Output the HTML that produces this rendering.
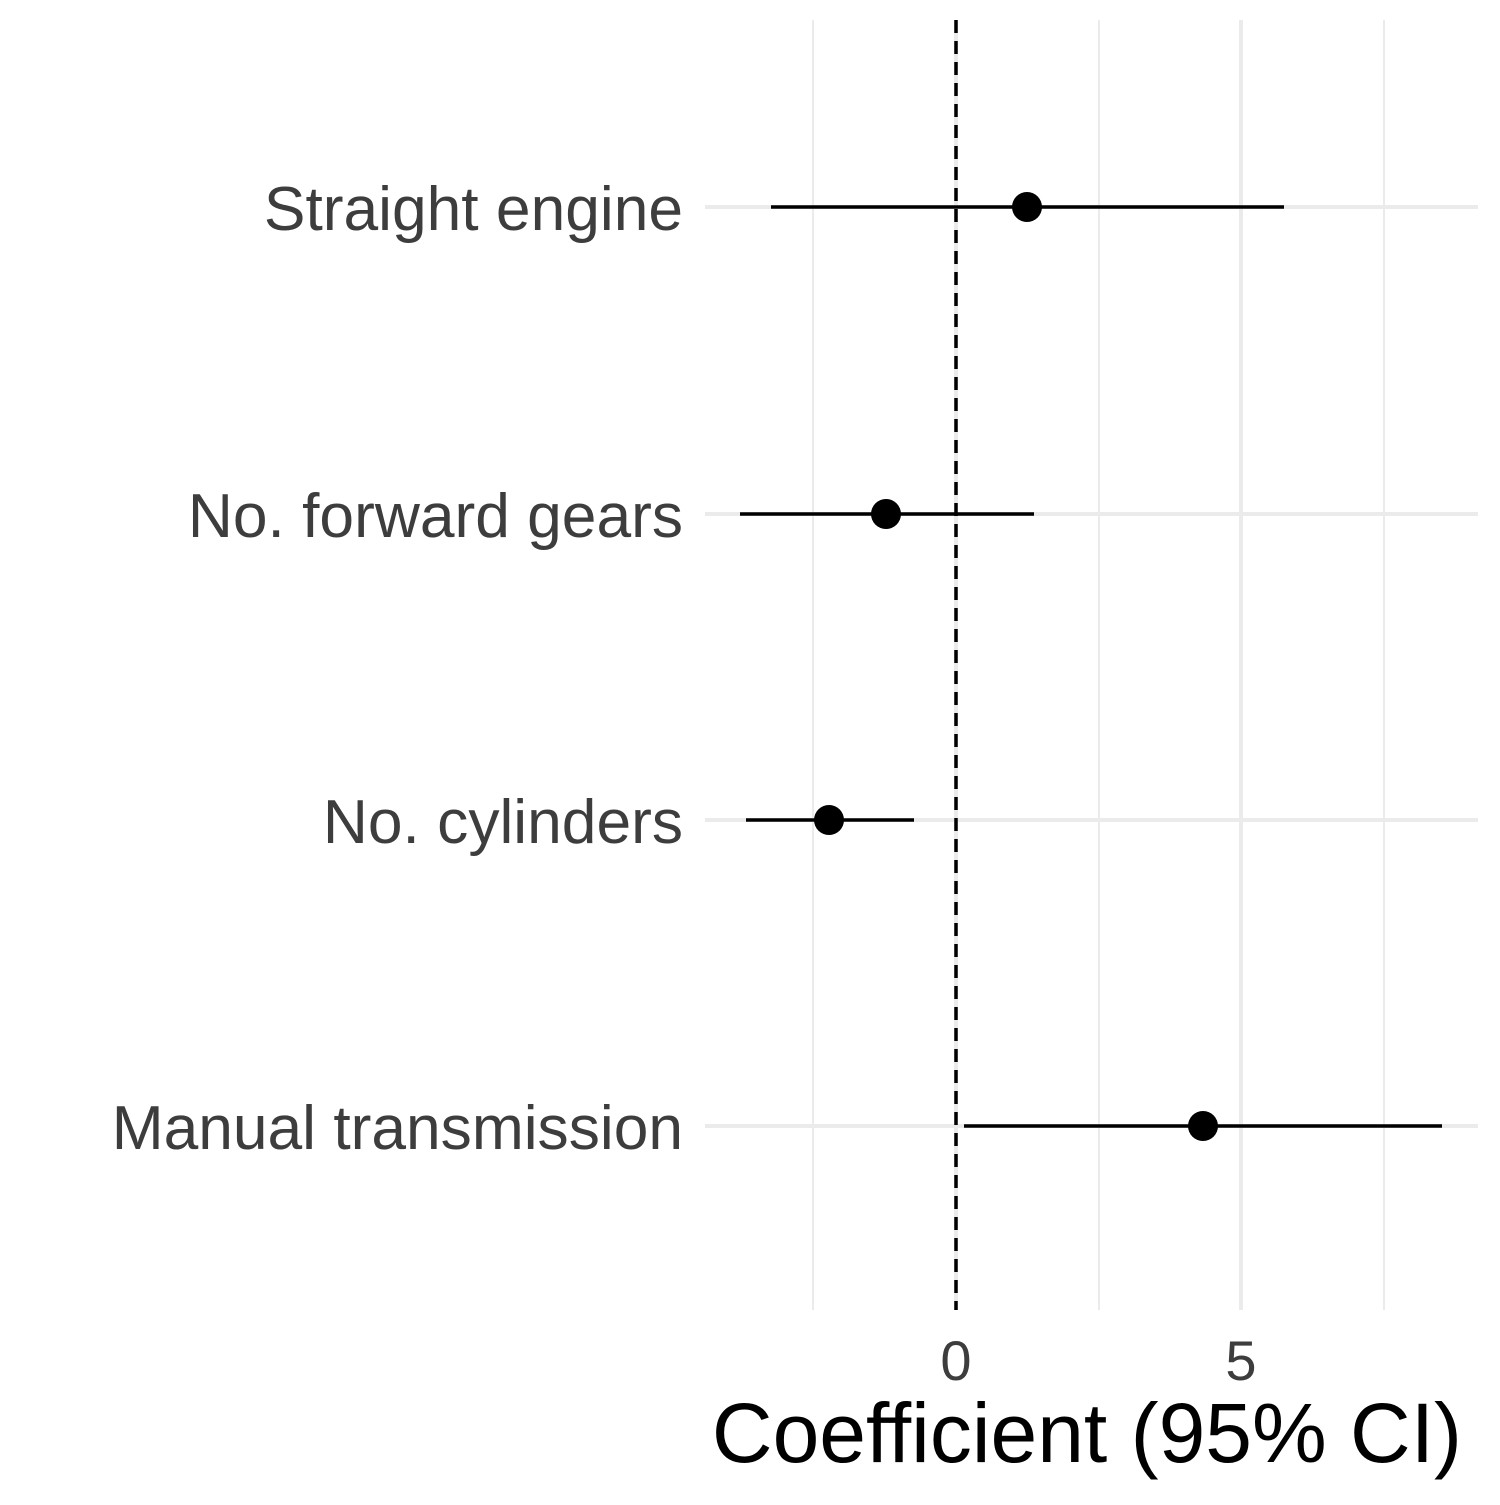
<!DOCTYPE html>
<html><head><style>body{margin:0;background:#fff}</style></head><body>
<svg width="1500" height="1500" xmlns="http://www.w3.org/2000/svg" font-family="Liberation Sans, Arial, sans-serif">
<rect width="1500" height="1500" fill="#fff"/>
<g stroke="#ebebeb" stroke-width="2">
<line x1="813" y1="20" x2="813" y2="1310"/>
<line x1="1099" y1="20" x2="1099" y2="1310"/>
<line x1="1384" y1="20" x2="1384" y2="1310"/>
</g>
<g stroke="#ebebeb" stroke-width="4">
<line x1="956" y1="20" x2="956" y2="1310"/>
<line x1="1241" y1="20" x2="1241" y2="1310"/>
<line x1="705" y1="207" x2="1478" y2="207"/>
<line x1="705" y1="514" x2="1478" y2="514"/>
<line x1="705" y1="820" x2="1478" y2="820"/>
<line x1="705" y1="1126" x2="1478" y2="1126"/>
</g>
<line x1="956" y1="20" x2="956" y2="1310" stroke="#000" stroke-width="3.5" stroke-dasharray="13,8"/>
<g stroke="#000" stroke-width="3.5">
<line x1="771" y1="207" x2="1284" y2="207"/>
<line x1="740" y1="514" x2="1034" y2="514"/>
<line x1="746" y1="820" x2="914" y2="820"/>
<line x1="964" y1="1126" x2="1442" y2="1126"/>
</g>
<g fill="#000">
<circle cx="1027" cy="207" r="15"/>
<circle cx="886" cy="514" r="15"/>
<circle cx="829" cy="820" r="15"/>
<circle cx="1203" cy="1126" r="15"/>
</g>
<g fill="#3d3d3d" font-size="62.3" text-anchor="end">
<text x="683" y="230">Straight engine</text>
<text x="683" y="537">No. forward gears</text>
<text x="683" y="843">No. cylinders</text>
<text x="683" y="1149">Manual transmission</text>
</g>
<g fill="#3d3d3d" font-size="56" text-anchor="middle">
<text x="956" y="1380">0</text>
<text x="1241" y="1380">5</text>
</g>
<text x="1462" y="1462" font-size="84" text-anchor="end" fill="#000">Coefficient (95% CI)</text>
</svg>
</body></html>
